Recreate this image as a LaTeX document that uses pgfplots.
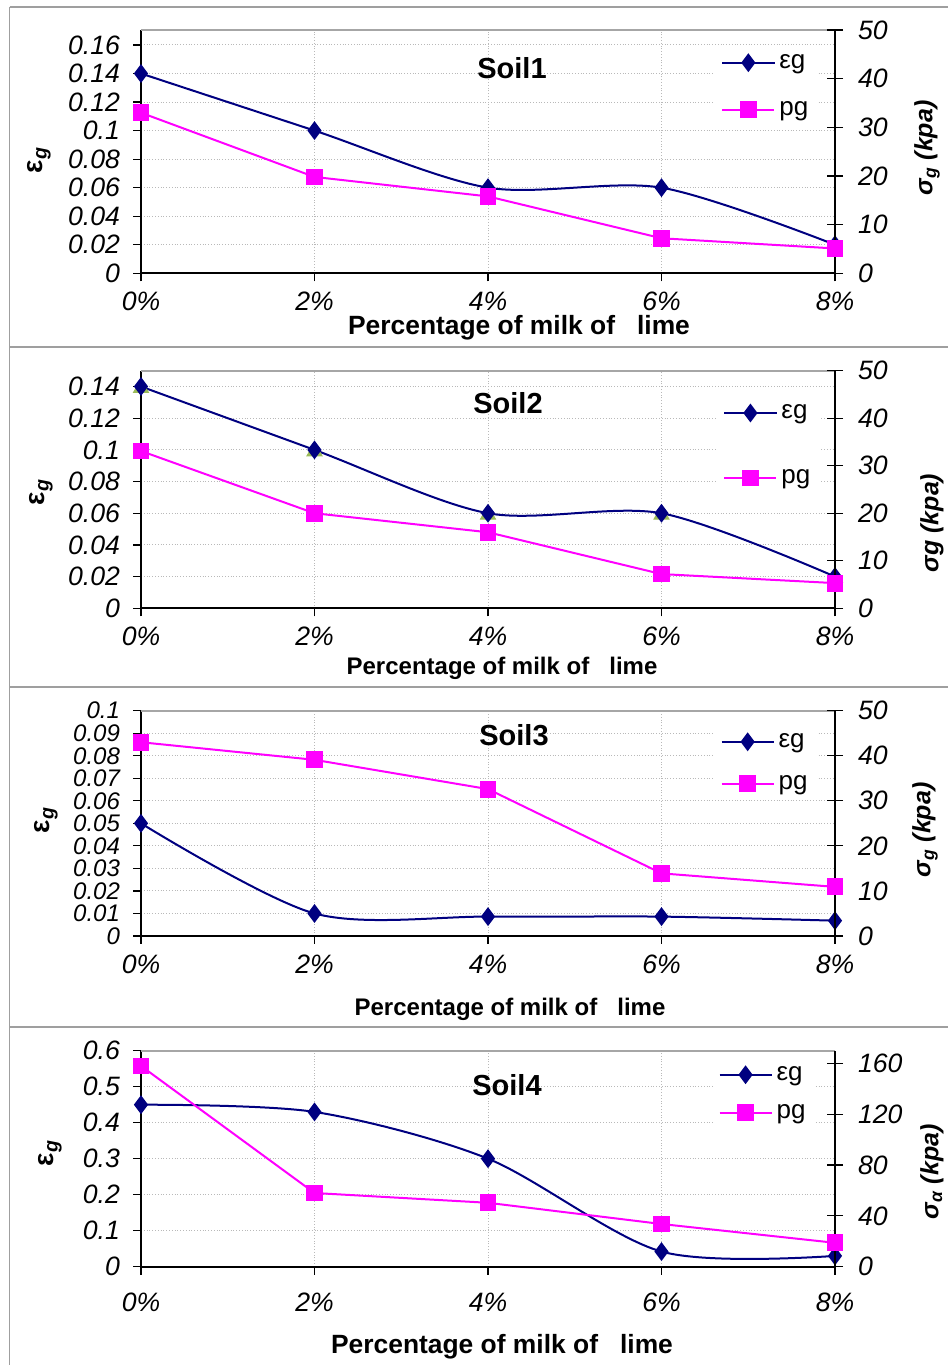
\documentclass[border=0pt]{standalone}
\usepackage{fontspec}
\setmainfont{Liberation Sans}
\usepackage{pgfplots}
\pgfplotsset{compat=1.18}

\definecolor{egnavy}{RGB}{0,0,128}
\definecolor{pgmag}{RGB}{255,0,255}
\definecolor{trigreen}{RGB}{155,187,89}

\pgfplotsset{
  soilbase/.style={
    scale only axis, width=347pt, xmin=0, xmax=8,
    xtick={0,2,4,6,8}, xticklabels={0\%,2\%,4\%,6\%,8\%},
    clip=false, scaled y ticks=false, ymin=0,
    /pgf/number format/assume math mode=true,
    /pgf/number format/fixed, /pgf/number format/precision=2,
    tick label style={font=\fontsize{13.3}{15}\selectfont\itshape},
  },
  leftax/.style={
    soilbase,
    axis x line*=bottom, axis y line*=left,
    axis line style={black, line width=0.9pt},
    tick align=outside, major tick length=4pt,
    tick style={black, line width=0.6pt},
    grid=major, grid style={gray!55, densely dotted, line width=0.5pt},
    yticklabel style={xshift=-3pt, inner ysep=0pt},
    xticklabel style={yshift=-2pt},
  },
  rightax/.style={
    soilbase,
    axis x line=none, axis y line*=right,
    axis line style={black, line width=0.9pt},
    tick align=center, major tick length=8pt,
    tick style={black, line width=0.6pt},
    yticklabel style={xshift=4pt, inner ysep=0pt},
    legend style={draw=none, fill=white, anchor=north west,
      font=\fontsize{13}{15}\selectfont, cells={anchor=west}},
    legend image code/.code={\draw[mark repeat=2,mark phase=2]
      plot coordinates {(0pt,0pt) (13pt,0pt) (26pt,0pt)};},
  },
  egstyle/.style={color=egnavy, line width=1pt, mark=diamond*,
    mark size=3.9pt, smooth, tension=0.5, mark options={solid}},
  pgstyle/.style={color=pgmag, line width=1pt, mark=square*,
    mark size=3.7pt, mark options={solid}},
}

\begin{document}
\begin{tikzpicture}
\useasboundingbox (0,0) rectangle (474pt,682.5pt);

% ---------- Soil1 ----------
\begin{axis}[leftax, at={(70.5pt,545.85pt)}, anchor=south west,
  height=121.65pt, ymax=0.1705, ytick={0,0.02,0.04,0.06,0.08,0.1,0.12,0.14,0.16}]
\draw[gray!70, line width=0.9pt] (rel axis cs:0,1) -- (rel axis cs:1,1);
\addplot[egstyle] coordinates {(0,0.14) (2,0.10) (4,0.06) (6,0.06) (8,0.02)};
\end{axis}
\begin{axis}[rightax, at={(70.5pt,545.85pt)}, anchor=south west,
  height=121.65pt, ymax=50, ytick={0,10,20,30,40,50},
  legend style={at={(0.827,0.935)}, row sep=11pt}]
\addlegendimage{egstyle}
\addlegendentry{εg}
\addplot[pgstyle] coordinates {(0,33) (2,19.8) (4,15.8) (6,7.2) (8,5.1)};
\addlegendentry{pg}
\end{axis}

% ---------- Soil2 ----------
\begin{axis}[leftax, at={(70.5pt,378.35pt)}, anchor=south west,
  height=118.8pt, ymax=0.15, ytick={0,0.02,0.04,0.06,0.08,0.1,0.12,0.14}]
\draw[gray!70, line width=0.9pt] (rel axis cs:0,1) -- (rel axis cs:1,1);
\addplot[only marks, mark=triangle*, mark size=4.4pt, color=trigreen]
  coordinates {(0,0.139) (2,0.099) (4,0.059) (6,0.059) (8,0.019)};
\addplot[egstyle] coordinates {(0,0.14) (2,0.10) (4,0.06) (6,0.06) (8,0.02)};
\end{axis}
\begin{axis}[rightax, at={(70.5pt,378.35pt)}, anchor=south west,
  height=118.8pt, ymax=50, ytick={0,10,20,30,40,50},
  legend style={at={(0.830,0.893)}, row sep=20pt}]
\addlegendimage{egstyle}
\addlegendentry{εg}
\addplot[pgstyle] coordinates {(0,33.1) (2,20) (4,16) (6,7.2) (8,5.3)};
\addlegendentry{pg}
\end{axis}

% ---------- Soil3 ----------
\begin{axis}[leftax, at={(70.5pt,214.5pt)}, anchor=south west,
  height=112.65pt, ymax=0.1,
  ytick={0,0.01,0.02,0.03,0.04,0.05,0.06,0.07,0.08,0.09,0.1},
  yticklabel style={font=\fontsize{12}{12}\selectfont\itshape}]
\draw[gray!70, line width=0.9pt] (rel axis cs:0,1) -- (rel axis cs:1,1);
\addplot[egstyle] coordinates {(0,0.05) (2,0.01) (4,0.0086) (6,0.0086) (8,0.0068)};
\end{axis}
\begin{axis}[rightax, at={(70.5pt,214.5pt)}, anchor=south west,
  height=112.65pt, ymax=50, ytick={0,10,20,30,40,50},
  legend style={at={(0.826,0.937)}, row sep=8.5pt}]
\addlegendimage{egstyle}
\addlegendentry{εg}
\addplot[pgstyle] coordinates {(0,43) (2,39.1) (4,32.6) (6,13.9) (8,10.9)};
\addlegendentry{pg}
\end{axis}

% ---------- Soil4 ----------
\begin{axis}[leftax, at={(70.5pt,49.15pt)}, anchor=south west,
  height=108pt, ymax=0.6, ytick={0,0.1,0.2,0.3,0.4,0.5,0.6},
  xticklabel style={yshift=-3.5pt}]
\draw[gray!70, line width=0.9pt] (rel axis cs:0,1) -- (rel axis cs:1,1);
\addplot[egstyle] coordinates {(0,0.45) (2,0.43) (4,0.30) (6,0.042) (8,0.03)};
\end{axis}
\begin{axis}[rightax, at={(70.5pt,49.15pt)}, anchor=south west,
  height=108pt, ymax=170, ytick={0,40,80,120,160},
  legend style={at={(0.823,0.967)}, row sep=6.5pt}]
\addlegendimage{egstyle}
\addlegendentry{εg}
\addplot[pgstyle] coordinates {(0,158) (2,58) (4,50.3) (6,33.6) (8,18.8)};
\addlegendentry{pg}
\end{axis}

% ---------- frames, titles and labels (pixel coordinates) ----------
\begin{scope}[shift={(0pt,682.5pt)}, x=0.5pt, y=-0.5pt]
\draw[gray!75, line width=0.8pt] (9.5,7) -- (948,7);
\draw[gray!75, line width=0.8pt] (9.5,347) -- (948,347);
\draw[gray!75, line width=0.8pt] (9.5,687) -- (948,687);
\draw[gray!75, line width=0.8pt] (9.5,1027) -- (948,1027);
\draw[gray!75, line width=0.8pt] (9.5,7) -- (9.5,1365);

\node[font=\fontsize{14.5}{16}\selectfont\bfseries] at (512,68) {Soil1};
\node[font=\fontsize{14.5}{16}\selectfont\bfseries] at (508,403) {Soil2};
\node[font=\fontsize{14.5}{16}\selectfont\bfseries] at (514,735) {Soil3};
\node[font=\fontsize{14.5}{16}\selectfont\bfseries] at (507,1085) {Soil4};

\node[font=\fontsize{13.2}{15}\selectfont\bfseries] at (519,328) {Percentage of milk of \ \ lime};
\node[font=\fontsize{12}{14}\selectfont\bfseries] at (502,668) {Percentage of milk of \ \ lime};
\node[font=\fontsize{12}{14}\selectfont\bfseries] at (510,1009) {Percentage of milk of \ \ lime};
\node[font=\fontsize{13.2}{15}\selectfont\bfseries] at (502,1347) {Percentage of milk of \ \ lime};

\node[rotate=90, font=\fontsize{14}{15}\selectfont\bfseries] at (39,160) {ε\textsubscript{\itshape g}};
\node[rotate=90, font=\fontsize{14}{15}\selectfont\bfseries] at (41,492) {ε\textsubscript{\itshape g}};
\node[rotate=90, font=\fontsize{14}{15}\selectfont\bfseries] at (46,820) {ε\textsubscript{\itshape g}};
\node[rotate=90, font=\fontsize{14}{15}\selectfont\bfseries] at (50,1153) {ε\textsubscript{\itshape g}};

\node[rotate=90, font=\fontsize{12.5}{14}\selectfont\bfseries\itshape] at (927,148) {σ\textsubscript{g} (kpa)};
\node[rotate=90, font=\fontsize{12.5}{14}\selectfont\bfseries\itshape] at (932,523) {σg (kpa)};
\node[rotate=90, font=\fontsize{12.5}{14}\selectfont\bfseries\itshape] at (925,830) {σ\textsubscript{g} (kpa)};
\node[rotate=90, font=\fontsize{12.5}{14}\selectfont\bfseries\itshape] at (932,1172) {σ\textsubscript{α} (kpa)};
\end{scope}
\end{tikzpicture}
\end{document}
